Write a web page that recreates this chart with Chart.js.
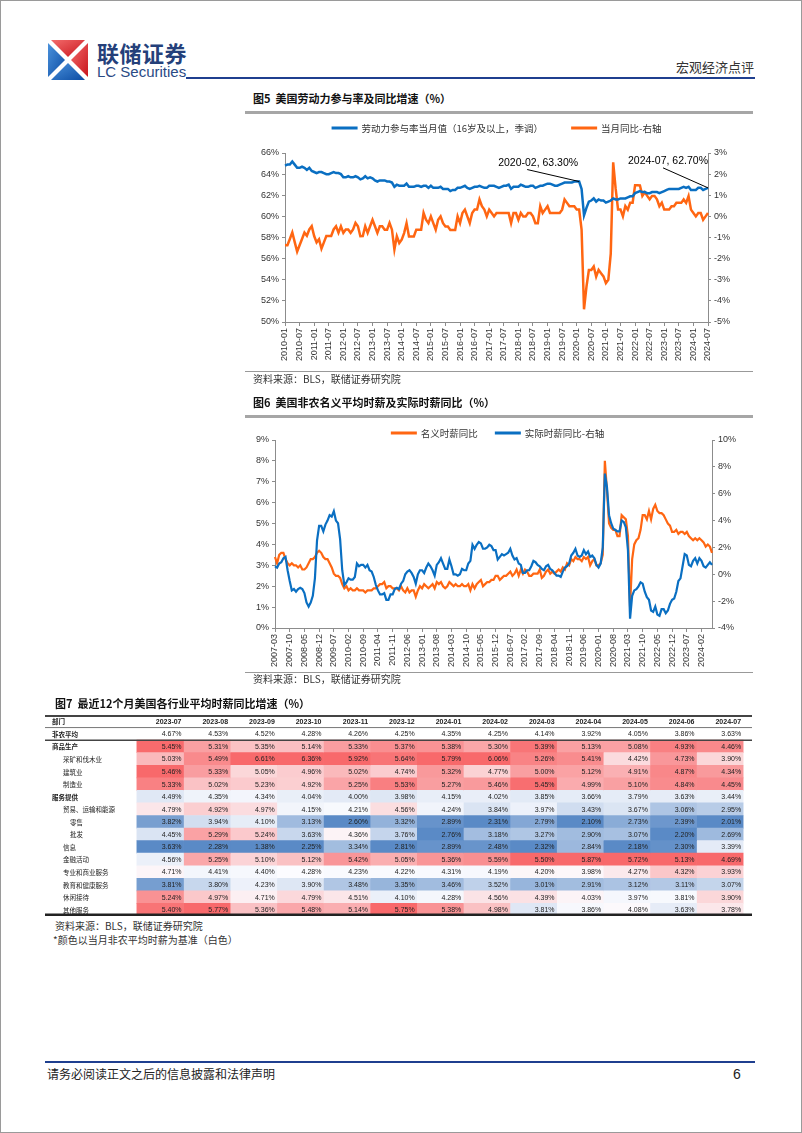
<!DOCTYPE html>
<html>
<head>
<meta charset="utf-8">
<script src="https://cdn.jsdelivr.net/npm/chart.js@4.4.1/dist/chart.umd.min.js"></script>
<style>
  body { margin: 0; width: 802px; height: 1133px; position: relative; background: #fff; overflow: hidden;
         font-family: "Noto Sans CJK SC", sans-serif; color: #222; }
  .frame { position: absolute; left: 0; top: 0; width: 800px; height: 1131px; border: 1px solid #9a9a9a; }
  .abs { position: absolute; white-space: nowrap; line-height: 1; }
  .rule { position: absolute; }
  .title { font-weight: bold; font-size: 11px; color: #111; }
  .src { font-size: 10px; color: #333; }
  canvas { position: absolute; }
</style>
</head>
<body>
<div class="frame"></div>

<!-- header -->
<svg class="abs" style="left:48px;top:40px" width="40" height="40" viewBox="0 0 40 40">
  <defs>
    <linearGradient id="gr" x1="0" y1="0" x2="1" y2="1"><stop offset="0" stop-color="#f36b6b"/><stop offset="1" stop-color="#c9161e"/></linearGradient>
    <linearGradient id="gb" x1="0" y1="0" x2="1" y2="1"><stop offset="0" stop-color="#4b92dc"/><stop offset="1" stop-color="#0c4ca3"/></linearGradient>
  </defs>
  <polygon points="3,0 37,0 20,17" fill="url(#gr)"/>
  <polygon points="40,3 40,37 23,20" fill="url(#gr)"/>
  <polygon points="0,3 17,20 0,37" fill="url(#gb)"/>
  <polygon points="3,40 20,23 37,40" fill="url(#gb)"/>
</svg>
<div class="abs" style="left:97px;top:41px;font-size:22px;font-weight:bold;color:#24407a;letter-spacing:0.5px">联储证券</div>
<div class="abs" style="left:97px;top:64px;font-size:15px;font-family:'Liberation Sans',Arial;color:#2a4a85">LC Securities</div>
<div class="rule" style="left:186px;top:77px;width:569px;height:2px;background:#1f3f8f"></div>
<div class="abs" style="left:676px;top:60px;font-size:13px;color:#333">宏观经济点评</div>

<!-- figure 5 -->
<div class="abs title" style="left:253px;top:93px">图5&nbsp;&nbsp;美国劳动力参与率及同比增速（%）</div>
<div class="rule" style="left:245px;top:111px;width:508px;height:3px;background:#a6a6a6"></div>
<canvas id="lfpr" width="530" height="256" style="left:232px;top:116px"></canvas>
<div class="rule" style="left:245px;top:371px;width:508px;height:1px;background:#999"></div>
<div class="abs src" style="left:253px;top:374px">资料来源：BLS，联储证券研究院</div>

<!-- figure 6 -->
<div class="abs title" style="left:253px;top:397px">图6&nbsp;&nbsp;美国非农名义平均时薪及实际时薪同比（%）</div>
<div class="rule" style="left:245px;top:415px;width:508px;height:3px;background:#a6a6a6"></div>
<canvas id="wage" width="523" height="252" style="left:232px;top:420px"></canvas>
<div class="rule" style="left:245px;top:672px;width:508px;height:1px;background:#999"></div>
<div class="abs src" style="left:253px;top:674px">资料来源：BLS，联储证券研究院</div>

<!-- figure 7 -->
<div class="abs title" style="left:55px;top:698px">图7&nbsp;&nbsp;最近12个月美国各行业平均时薪同比增速（%）</div>
<canvas id="table" width="707" height="201" style="left:45px;top:715px"></canvas>
<div class="abs src" style="left:55px;top:921px">资料来源：BLS，联储证券研究院</div>
<div class="abs src" style="left:53px;top:935px">*颜色以当月非农平均时薪为基准（白色）</div>

<!-- footer -->
<div class="rule" style="left:45px;top:1061px;width:710px;height:2px;background:#1f3f8f"></div>
<div class="abs" style="left:47px;top:1068px;font-size:12px;color:#222">请务必阅读正文之后的信息披露和法律声明</div>
<div class="abs" style="left:733px;top:1067px;font-size:14px;font-family:'Liberation Sans',Arial;color:#222">6</div>

<script>
// ---------- data: figure 5 ----------
const lfprStart = [2010, 1];
const lfprRate = [
  64.8, 64.9, 64.9, 65.2, 64.9, 64.6, 64.6, 64.7, 64.6, 64.4, 64.6, 64.3,
  64.2, 64.1, 64.2, 64.2, 64.1, 64.0, 64.0, 64.1, 64.2, 64.1, 64.1, 64.0,
  63.7, 63.7, 63.8, 63.7, 63.7, 63.8, 63.7, 63.5, 63.6, 63.8, 63.6, 63.7,
  63.6, 63.4, 63.3, 63.4, 63.4, 63.4, 63.3, 63.3, 63.2, 62.8, 63.0, 62.9,
  62.9, 62.9, 63.1, 62.8, 62.8, 62.8, 62.9, 62.9, 62.8, 62.9, 62.9, 62.7,
  62.9, 62.7, 62.7, 62.7, 62.8, 62.6, 62.6, 62.6, 62.4, 62.5, 62.5, 62.7,
  62.7, 62.8, 62.9, 62.7, 62.6, 62.7, 62.8, 62.8, 62.9, 62.8, 62.7, 62.7,
  62.9, 62.9, 62.9, 62.8, 62.7, 62.8, 62.9, 62.9, 63.0, 62.6, 62.8, 62.8,
  62.8, 63.0, 62.9, 62.8, 62.8, 62.9, 62.9, 62.7, 62.8, 62.9, 62.9, 63.0,
  63.1, 63.1, 63.0, 62.9, 62.9, 63.0, 63.1, 63.2, 63.2, 63.2, 63.2, 63.3,
  63.3, 63.3, 62.6, 60.1, 60.8, 61.4, 61.5, 61.7, 61.4, 61.6, 61.5, 61.5,
  61.3, 61.4, 61.5, 61.7, 61.6, 61.6, 61.7, 61.7, 61.7, 61.8, 61.9, 61.9,
  62.2, 62.3, 62.4, 62.3, 62.3, 62.2, 62.2, 62.3, 62.3, 62.3, 62.2, 62.3,
  62.4, 62.5, 62.6, 62.6, 62.6, 62.6, 62.6, 62.7, 62.8, 62.7, 62.8, 62.5,
  62.5, 62.5, 62.7, 62.7, 62.5, 62.6, 62.7
];
const lfprYoy = [
  -1.37, -1.37, -1.07, -0.76, -1.22, -1.67, -1.37, -1.07, -0.77, -0.92, -0.62, -0.46,
  -0.93, -1.23, -1.08, -1.53, -1.23, -0.93, -0.93, -0.93, -0.62, -0.47, -0.77, -0.47,
  -0.78, -0.62, -0.62, -0.78, -0.62, -0.31, -0.47, -0.94, -0.93, -0.47, -0.78, -0.47,
  -0.16, -0.47, -0.78, -0.47, -0.47, -0.63, -0.63, -0.31, -0.63, -1.57, -0.94, -1.26,
  -1.10, -0.79, -0.32, -0.95, -0.95, -0.95, -0.63, -0.63, -0.63, 0.16, -0.16, -0.32,
  0.00, -0.32, -0.63, -0.16, 0.00, -0.32, -0.48, -0.48, -0.64, -0.64, -0.64, 0.00,
  -0.32, 0.16, 0.32, 0.00, -0.32, 0.16, 0.32, 0.32, 0.80, 0.48, 0.32, 0.00,
  0.32, 0.16, 0.00, 0.16, 0.16, 0.16, 0.16, 0.16, 0.16, -0.32, 0.16, 0.16,
  -0.16, 0.16, 0.00, 0.00, 0.16, 0.16, 0.00, -0.32, -0.32, 0.48, 0.16, 0.32,
  0.48, 0.16, 0.16, 0.16, 0.16, 0.16, 0.32, 0.80, 0.64, 0.48, 0.48, 0.48,
  0.32, 0.32, -0.63, -4.40, -3.34, -2.54, -2.54, -2.37, -2.85, -2.53, -2.69, -2.84,
  -3.16, -3.00, -1.76, 2.56, 1.32, 0.33, 0.33, 0.00, 0.49, 0.32, 0.65, 0.65,
  1.47, 1.47, 1.46, 0.97, 1.14, 0.97, 0.81, 0.97, 0.97, 0.81, 0.48, 0.65,
  0.32, 0.32, 0.32, 0.48, 0.48, 0.64, 0.64, 0.64, 0.80, 0.64, 0.96, 0.32,
  0.16, 0.00, 0.16, 0.16, -0.16, 0.00, 0.16
];
const calloutMonths = ['2020-02', '2024-07'];

// ---------- data: figure 6 ----------
const wageStart = [2007, 3];
const wageNominal = [
  3.4, 3.1, 3.5, 3.6, 3.6, 3.3, 3.1, 3.0, 3.1, 3.0,
  3.0, 2.9, 3.0, 2.8, 2.8, 2.9, 3.1, 3.3, 3.3, 3.4, 3.6, 3.7,
  3.6, 3.4, 3.3, 3.3, 3.1, 2.9, 2.6, 2.5, 2.5, 2.4, 2.1, 1.9,
  2.0, 1.8, 1.9, 1.8, 1.8, 1.9, 1.8, 1.8, 1.8, 1.7, 1.8, 1.8,
  1.8, 1.9, 1.9, 2.0, 2.1, 2.1, 2.2, 1.9, 2.0, 2.0, 1.9, 1.9,
  1.9, 1.8, 2.0, 1.8, 1.7, 1.9, 1.7, 1.8, 1.8, 1.5, 1.8, 2.0,
  1.9, 2.1, 2.0, 1.9, 2.0, 2.1, 1.9, 2.2, 2.1, 2.2, 2.0, 1.9,
  2.0, 2.2, 2.1, 2.0, 2.1, 2.0, 2.0, 2.1, 2.0, 2.0, 2.1, 1.8,
  2.1, 1.9, 2.1, 2.2, 2.3, 2.0, 2.1, 2.2, 2.2, 2.3, 2.3, 2.5,
  2.5, 2.3, 2.4, 2.5, 2.5, 2.6, 2.7, 2.5, 2.6, 2.8, 2.5, 2.8,
  2.6, 2.8, 2.7, 2.5, 2.5, 2.6, 2.6, 2.6, 2.8, 2.4, 2.5, 2.7,
  2.8, 2.6, 2.7, 2.6, 2.7, 2.8, 2.7, 2.9, 2.8, 3.1, 3.0, 3.3,
  3.2, 3.4, 3.3, 3.3, 3.2, 3.4, 3.3, 3.4, 3.0, 3.2, 3.3, 3.0,
  3.0, 3.1, 3.5, 8.0, 6.6, 5.0, 4.8, 4.7, 4.7, 4.4, 4.4, 5.4,
  5.3, 5.2, 4.4, 1.0, 3.3, 4.0, 4.2, 4.3, 4.7, 5.4, 5.4, 5.2,
  5.6, 5.2, 5.7, 5.9, 5.6, 5.5, 5.5, 5.4, 5.2, 5.0, 4.9, 4.6,
  4.6, 4.7, 4.5, 4.6, 4.6, 4.5, 4.6, 4.4, 4.3, 4.2, 4.3, 4.2,
  4.3, 4.2, 4.1, 3.9, 4.0, 3.9, 3.6
];
const wageReal = [
  0.6, 0.5, 0.8, 0.9, 1.2, 1.3, 0.3, -0.5, -1.2, -1.1,
  -1.3, -1.1, -1.0, -1.1, -1.4, -2.1, -2.4, -2.1, -1.6, -0.3, 2.5, 3.6,
  3.6, 3.2, 3.7, 4.0, 4.4, 4.3, 4.7, 4.0, 3.8, 2.6, 0.3, -0.8,
  -0.6, -0.3, -0.4, -0.4, -0.2, 0.8, 0.6, 0.7, 0.7, 0.5, 0.7, 0.3,
  0.2, -0.2, -0.8, -1.2, -1.5, -1.5, -1.4, -1.9, -1.9, -1.5, -1.5, -1.1,
  -1.0, -1.1, -0.7, -0.5, 0.0, 0.2, 0.3, 0.1, -0.2, -0.7, 0.0, 0.3,
  0.3, 0.1, 0.5, 0.8, 0.6, 0.3, -0.1, 0.7, 0.9, 1.2, 0.8, 0.4,
  0.4, 1.1, 0.6, 0.0, 0.0, -0.1, 0.0, 0.4, 0.3, 0.3, 0.8, 1.0,
  2.2, 1.9, 2.2, 2.4, 2.3, 1.9, 1.9, 2.0, 2.2, 2.1, 1.8, 1.8,
  1.1, 1.3, 1.5, 1.4, 1.5, 1.6, 1.9, 1.4, 1.1, 1.2, 0.8, 0.7,
  0.1, 0.1, 0.3, 0.3, 0.6, 1.0, 0.9, 0.7, 0.6, 0.4, 0.3, 0.6,
  0.7, 0.4, 0.3, 0.1, -0.1, -0.1, -0.2, 0.2, 0.5, 0.6, 0.8, 1.4,
  1.6, 1.9, 1.4, 1.3, 1.4, 1.8, 1.5, 1.7, 1.3, 1.4, 1.2, 0.7,
  0.5, 0.8, 2.0, 7.5, 6.5, 4.4, 3.8, 3.4, 3.3, 3.2, 3.2, 4.0,
  3.9, 3.5, 1.8, -3.3, -1.6, -1.2, -1.1, -0.9, -0.6, -0.7, -1.3, -1.7,
  -1.9, -2.7, -2.8, -2.4, -3.0, -3.1, -2.6, -2.6, -2.9, -2.7, -2.2, -1.9,
  -1.8, -1.3, -0.5, -0.3, 0.6, 1.5, 1.4, 0.7, 0.6, 1.0, 1.2, 0.8,
  1.2, 1.0, 0.6, 0.5, 0.7, 0.9, 0.7
];

// ---------- data: figure 7 ----------
const tableMonths = ['2023-07', '2023-08', '2023-09', '2023-10', '2023-11', '2023-12',
  '2024-01', '2024-02', '2024-03', '2024-04', '2024-05', '2024-06', '2024-07'];
const tableRows = ['部门', '非农平均', '商品生产', '采矿和伐木业', '建筑业', '制造业', '服务提供',
  '贸易、运输和能源', '零售', '批发', '信息', '金融活动', '专业和商业服务', '教育和健康服务', '休闲接待', '其他服务'];
const wageByIndustry = [
  [4.67, 4.53, 4.52, 4.28, 4.26, 4.25, 4.35, 4.25, 4.14, 3.92, 4.05, 3.86, 3.63],
  [5.45, 5.31, 5.35, 5.14, 5.33, 5.37, 5.38, 5.30, 5.39, 5.13, 5.08, 4.93, 4.46],
  [5.03, 5.49, 6.61, 6.36, 5.92, 5.64, 5.79, 6.06, 5.26, 5.41, 4.42, 4.73, 3.90],
  [5.46, 5.33, 5.05, 4.96, 5.02, 4.74, 5.32, 4.77, 5.00, 5.12, 4.91, 4.87, 4.34],
  [5.33, 5.02, 5.23, 4.92, 5.25, 5.53, 5.27, 5.46, 5.45, 4.99, 5.10, 4.84, 4.45],
  [4.49, 4.35, 4.34, 4.04, 4.00, 3.98, 4.15, 4.02, 3.85, 3.66, 3.79, 3.63, 3.44],
  [4.79, 4.92, 4.97, 4.15, 4.21, 4.56, 4.24, 3.84, 3.97, 3.43, 3.67, 3.06, 2.95],
  [3.82, 3.94, 4.10, 3.13, 2.60, 3.32, 2.89, 2.31, 2.79, 2.10, 2.73, 2.39, 2.01],
  [4.45, 5.29, 5.24, 3.63, 4.36, 3.76, 2.76, 3.18, 3.27, 2.90, 3.07, 2.20, 2.69],
  [3.63, 2.28, 1.38, 2.25, 3.34, 2.81, 2.89, 2.48, 2.32, 2.84, 2.18, 2.30, 3.39],
  [4.56, 5.25, 5.10, 5.12, 5.42, 5.05, 5.36, 5.59, 5.50, 5.87, 5.72, 5.13, 4.69],
  [4.71, 4.41, 4.40, 4.28, 4.23, 4.22, 4.31, 4.19, 4.20, 3.98, 4.27, 4.32, 3.93],
  [3.81, 3.80, 4.23, 3.90, 3.48, 3.35, 3.46, 3.52, 3.01, 2.91, 3.12, 3.11, 3.07],
  [5.24, 4.97, 4.71, 4.79, 4.51, 4.10, 4.28, 4.56, 4.39, 4.03, 3.97, 3.81, 3.90],
  [5.40, 5.77, 5.36, 5.48, 5.14, 5.75, 5.38, 4.98, 3.81, 3.86, 4.08, 3.63, 3.78]
];

// ---------- styles ----------
const BLUE = '#0a6fc2';
const ORANGE = '#ff6612';
const AXIS = '#8c8c8c';
const LATIN = '"Liberation Sans", Arial, sans-serif';
const CJK = '"Noto Sans CJK SC", sans-serif';
const rowIndent = [7, 7, 7, 18, 18, 18, 7, 18, 25, 25, 18, 18, 18, 18, 18, 18];
const boldRows = [0, 1, 2, 6];
const calloutOffsets = [
  { tx: -81, ty: -18, lx: -52, ly: -12 },
  { tx: -80, ty: -27, lx: -45, ly: -20 }
];

function monthLabels(start, count) {
  const out = [];
  for (let k = 0; k < count; k++) {
    const mm = start[1] - 1 + k;
    out.push(`${start[0] + Math.floor(mm / 12)}-${String(mm % 12 + 1).padStart(2, '0')}`);
  }
  return out;
}

// simple line legend centred over the plot
const lineLegend = {
  id: 'lineLegend',
  afterDraw(chart, args, opts) {
    const { ctx, chartArea } = chart;
    ctx.save();
    ctx.font = `${opts.size}px ${CJK}`;
    ctx.textBaseline = 'middle';
    const items = chart.data.datasets.map(d => ({
      text: d.label, color: d.borderColor, w: 30 + ctx.measureText(d.label).width
    }));
    const total = items.reduce((s, it) => s + it.w, 0) + opts.gap * (items.length - 1);
    let x = (chartArea.left + chartArea.right) / 2 + (opts.shift || 0) - total / 2;
    items.forEach(it => {
      ctx.fillStyle = it.color;
      ctx.fillRect(x, opts.y - 1.5, 26, 3);
      ctx.fillStyle = '#333';
      ctx.fillText(it.text, x + 30, opts.y + 0.5);
      x += it.w + opts.gap;
    });
    ctx.restore();
  }
};

function axisY(pos, min, max, step, width) {
  return {
    position: pos, min: min, max: max,
    grid: { drawOnChartArea: false, tickLength: 3, color: AXIS },
    border: { color: AXIS },
    ticks: { stepSize: step, padding: 3, color: '#333', font: { family: LATIN, size: 9 }, callback: v => v + '%' },
    afterFit: s => { s.width = width; }
  };
}

function axisX(labels, every, height) {
  return {
    grid: { drawOnChartArea: false, tickLength: 4, color: AXIS },
    border: { color: AXIS },
    ticks: {
      autoSkip: false, maxRotation: 90, minRotation: 90, padding: 2,
      color: '#333', font: { family: LATIN, size: 9 },
      callback: (v, i) => (i % every === 0 ? labels[i] : null)
    },
    afterFit: s => { s.height = height; }
  };
}

// ---------- figure 5 ----------
const lfprLabels = monthLabels(lfprStart, lfprRate.length);

const calloutPlugin = {
  id: 'callout',
  afterDatasetsDraw(chart) {
    const { ctx, scales: { x, y } } = chart;
    ctx.save();
    ctx.font = `10.5px ${LATIN}`;
    ctx.fillStyle = '#000';
    ctx.strokeStyle = '#000';
    ctx.lineWidth = 1;
    ctx.textBaseline = 'middle';
    calloutMonths.forEach((m, k) => {
      const i = lfprLabels.indexOf(m);
      const px = x.getPixelForValue(i);
      const py = y.getPixelForValue(lfprRate[i]);
      const o = calloutOffsets[k];
      ctx.beginPath();
      ctx.moveTo(px + o.lx, py + o.ly);
      ctx.lineTo(px, py);
      ctx.stroke();
      ctx.fillText(`${m}, ${lfprRate[i].toFixed(2)}%`, px + o.tx, py + o.ty);
    });
    ctx.restore();
  }
};

new Chart(document.getElementById('lfpr'), {
  type: 'line',
  data: {
    labels: lfprLabels,
    datasets: [
      { label: '劳动力参与率当月值（16岁及以上，季调）', data: lfprRate, yAxisID: 'y',
        borderColor: BLUE, backgroundColor: BLUE, borderWidth: 2.5, pointRadius: 0 },
      { label: '当月同比-右轴', data: lfprYoy, yAxisID: 'y1',
        borderColor: ORANGE, backgroundColor: ORANGE, borderWidth: 2.5, pointRadius: 0 }
    ]
  },
  options: {
    responsive: false, animation: false, devicePixelRatio: 1, events: [],
    layout: { padding: { top: 37, left: 0, right: 0, bottom: 0 } },
    plugins: { legend: { display: false }, tooltip: { enabled: false },
      lineLegend: { y: 12, size: 9.5, gap: 28 } },
    scales: {
      x: axisX(lfprLabels, 6, 50),
      y: axisY('left', 50, 66, 2, 53),
      y1: axisY('right', -5, 3, 1, 54)
    }
  },
  plugins: [lineLegend, calloutPlugin]
});

// ---------- figure 6 ----------
const wageLabels = monthLabels(wageStart, wageNominal.length);

new Chart(document.getElementById('wage'), {
  type: 'line',
  data: {
    labels: wageLabels,
    datasets: [
      { label: '名义时薪同比', data: wageNominal, yAxisID: 'y', order: 1,
        borderColor: ORANGE, backgroundColor: ORANGE, borderWidth: 2.2, pointRadius: 0 },
      { label: '实际时薪同比-右轴', data: wageReal, yAxisID: 'y1', order: 0,
        borderColor: BLUE, backgroundColor: BLUE, borderWidth: 2.2, pointRadius: 0 }
    ]
  },
  options: {
    responsive: false, animation: false, devicePixelRatio: 1, events: [],
    layout: { padding: { top: 20, left: 0, right: 0, bottom: 0 } },
    plugins: { legend: { display: false }, tooltip: { enabled: false },
      lineLegend: { y: 13, size: 9.5, gap: 17, shift: 4 } },
    scales: {
      x: axisX(wageLabels, 7, 44),
      y: axisY('left', 0, 9, 1, 43),
      y1: axisY('right', -4, 10, 2, 43)
    }
  },
  plugins: [lineLegend]
});

// ---------- figure 7 (heat table) ----------
const RED = [248, 105, 107], WHITE = [252, 252, 255], BLUEC = [90, 138, 198];
function mix(a, b, t) {
  return `rgb(${a.map((v, k) => Math.round(v + (b[k] - v) * t)).join(',')})`;
}
function cellColor(col, row) {
  // row index in tableRows; coloured rows are 2..15, relative to 非农平均 of that month
  const avg = wageByIndustry[0][col];
  const colVals = wageByIndustry.slice(1).map(r => r[col]);
  const v = wageByIndustry[row - 1][col];
  if (v >= avg) return mix(WHITE, RED, (v - avg) / (Math.max(...colVals) - avg));
  return mix(WHITE, BLUEC, (avg - v) / (avg - Math.min(...colVals)));
}

const tablePlugin = {
  id: 'wageTable',
  afterDatasetsDraw(chart) {
    const { ctx, scales: { x, y }, chartArea } = chart;
    const rowH = y.getPixelForValue(1) - y.getPixelForValue(0);
    const edge = i => y.getPixelForValue(i) - rowH / 2;
    ctx.save();
    ctx.textBaseline = 'middle';
    tableRows.forEach((name, i) => {
      const cy = y.getPixelForValue(i);
      ctx.fillStyle = '#222';
      ctx.textAlign = 'left';
      ctx.font = `${boldRows.includes(i) ? 'bold ' : ''}6.5px ${CJK}`;
      ctx.fillText(name, chartArea.left + rowIndent[i], cy + 0.5);
      ctx.textAlign = 'right';
      tableMonths.forEach((m, c) => {
        const rx = x.getPixelForValue(c + 1) - 2;
        if (i === 0) {
          ctx.font = `bold 7px ${LATIN}`;
          ctx.fillText(m, rx, cy + 0.5);
        } else {
          ctx.font = `7px ${LATIN}`;
          ctx.fillText(wageByIndustry[i - 1][c].toFixed(2) + '%', rx, cy + 0.5);
        }
      });
    });
    const hline = (yy, w, color) => {
      ctx.beginPath();
      ctx.strokeStyle = color;
      ctx.lineWidth = w;
      ctx.moveTo(chartArea.left, yy);
      ctx.lineTo(chartArea.right, yy);
      ctx.stroke();
    };
    hline(edge(0) + 1, 2, '#444');
    hline(edge(1), 1, '#777');
    hline(edge(2), 1.5, '#444');
    hline(edge(tableRows.length) - 1.2, 2.4, '#222');
    ctx.restore();
  }
};

new Chart(document.getElementById('table'), {
  type: 'bar',
  data: {
    labels: tableRows,
    datasets: tableMonths.map((m, c) => ({
      label: m,
      data: tableRows.map((r, i) => (i < 2 ? null : [c, c + 1])),
      backgroundColor: ctx => (ctx.dataIndex < 2 ? 'rgba(0,0,0,0)' : cellColor(c, ctx.dataIndex)),
      borderWidth: 0, grouped: false, barPercentage: 1, categoryPercentage: 1
    }))
  },
  options: {
    indexAxis: 'y', responsive: false, animation: false, devicePixelRatio: 1, events: [],
    layout: { padding: 0 },
    plugins: { legend: { display: false }, tooltip: { enabled: false } },
    scales: {
      x: { type: 'linear', display: false, min: -1.97, max: 13.19 },
      y: { display: false }
    }
  },
  plugins: [tablePlugin]
});
</script>
</body>
</html>
